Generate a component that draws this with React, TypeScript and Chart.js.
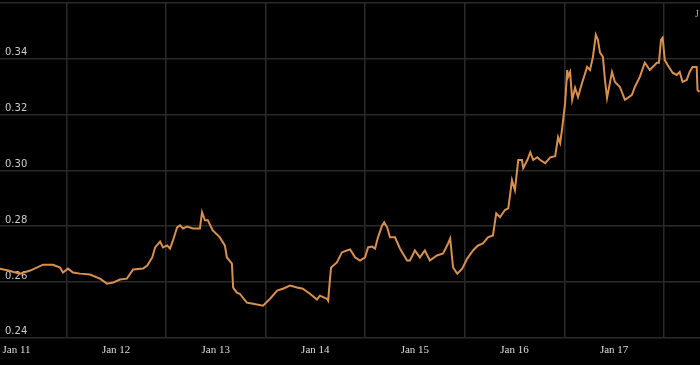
import React, { useEffect, useRef } from "react";
import { Chart, registerables } from "chart.js";

Chart.register(...registerables);

// hours after Jan 11 00:00
const hours = [
  -4.0, -2.0, 0.8, 3.3, 6.4, 8.8, 10.5, 11.2, 12.4, 13.6, 15.3, 17.7, 20.1, 21.8, 23.3,
  24.9, 26.6, 27.4, 28.1, 30.5, 31.5, 32.7, 33.4, 34.6, 35.3, 36.3, 37.0, 37.7, 38.7,
  39.4, 40.1, 41.1, 42.5, 44.2, 44.7, 45.4, 46.1, 47.3, 49.0, 50.2, 50.7, 51.9, 52.2,
  53.1, 53.8, 55.5, 57.0, 59.4, 61.1, 62.8, 64.2, 65.9, 67.6, 69.0, 70.7, 72.4, 73.1,
  74.8, 75.1, 75.5, 75.8, 77.2, 78.4, 79.6, 80.4, 81.6, 82.8, 84.0, 84.7, 85.7, 86.4,
  87.1, 88.1, 88.6, 89.3, 90.0, 91.2, 92.4, 94.1, 94.8, 96.0, 97.2, 98.4, 99.6, 101.3,
  102.8, 104.0, 104.5, 105.2, 106.2, 107.4, 108.6, 110.0, 111.2, 112.4, 113.6, 114.8,
  115.6, 116.5, 117.7, 118.5, 119.4, 120.1, 120.9, 121.8, 122.1, 123.1, 123.8, 124.5,
  125.5, 126.2, 127.4, 128.6, 129.8, 130.5, 131.0, 131.5, 132.2, 132.7, 132.9, 133.4,
  133.9, 134.6, 135.3, 136.3, 137.5, 138.2, 138.9, 139.6, 140.1, 140.6, 141.3, 141.8,
  142.3, 143.5, 144.2, 145.4, 146.6, 147.3, 148.3, 149.0, 150.2, 151.4, 152.6, 154.3,
  154.8, 155.3, 155.7, 156.2, 156.9, 158.1, 159.1, 159.8, 160.5, 161.5, 162.2, 162.9,
  163.9, 164.1, 164.6,
];

const values = [
  0.2648, 0.2641, 0.263, 0.2641, 0.2662, 0.2662, 0.2652, 0.2634, 0.2648, 0.2634, 0.263,
  0.2627, 0.2612, 0.2594, 0.2598, 0.2609, 0.2612, 0.263, 0.2645, 0.2648, 0.2659, 0.2688,
  0.2724, 0.2745, 0.2724, 0.2731, 0.272, 0.2749, 0.2796, 0.2803, 0.2792, 0.2799, 0.2792,
  0.2792, 0.285, 0.2821, 0.2821, 0.2785, 0.276, 0.2731, 0.2688, 0.2666, 0.258, 0.2562,
  0.2558, 0.2526, 0.2522, 0.2515, 0.254, 0.2569, 0.2576, 0.2587, 0.258, 0.2576, 0.2558,
  0.2537, 0.2551, 0.254, 0.2533, 0.2605, 0.2652, 0.267, 0.2706, 0.2713, 0.2717, 0.2688,
  0.2677, 0.2688, 0.2724, 0.2727, 0.272, 0.276, 0.2803, 0.2814, 0.2796, 0.276, 0.276,
  0.272, 0.2677, 0.2677, 0.2713, 0.2688, 0.2713, 0.2677, 0.2695, 0.2702, 0.2738, 0.2756,
  0.2652, 0.263, 0.2648, 0.2684, 0.2713, 0.2731, 0.2738, 0.276, 0.2767, 0.2846, 0.2832,
  0.2858, 0.2864, 0.2965, 0.2929, 0.3037, 0.3037, 0.3008, 0.3037, 0.3065, 0.3037, 0.3047,
  0.3037, 0.3026, 0.3047, 0.3051, 0.3119, 0.3098, 0.3152, 0.3242, 0.336, 0.3335, 0.3353,
  0.3253, 0.3296, 0.3263, 0.3314, 0.3371, 0.336, 0.3407, 0.3486, 0.3468, 0.3422, 0.3407,
  0.3324, 0.326, 0.3353, 0.3317, 0.3299, 0.3253, 0.326, 0.3271, 0.3299, 0.3335, 0.3386,
  0.336, 0.3386, 0.3386, 0.3468, 0.3476, 0.3396, 0.3378, 0.335, 0.3342, 0.3353, 0.3317,
  0.3324, 0.3353, 0.3371, 0.3371, 0.3288, 0.3281,
];

const dayLabels = ["Jan 11", "Jan 12", "Jan 13", "Jan 14", "Jan 15", "Jan 16", "Jan 17"];
const yMin = 0.24;
const yMax = 0.36;
const yStep = 0.02;
const cornerText = "J";

const cornerPlugin = {
  id: "cornerText",
  afterDraw(chart: any) {
    const ctx = chart.ctx;
    ctx.save();
    ctx.font = "10px 'Liberation Serif'";
    ctx.fillStyle = "#aaaaaa";
    ctx.textAlign = "left";
    ctx.textBaseline = "middle";
    ctx.fillText(cornerText, 695, 14);
    ctx.restore();
  },
};

export default function App() {
  const ref = useRef<HTMLCanvasElement | null>(null);

  useEffect(() => {
    document.body.style.margin = "0";
    document.body.style.background = "#000";
    const canvas = ref.current;
    if (!canvas) return;
    const chart = new Chart(canvas, {
      type: "line",
      data: {
        datasets: [
          {
            data: hours.map((h, i) => ({ x: h, y: values[i] })),
            borderColor: "#d8904f",
            borderWidth: 2,
            pointRadius: 0,
            tension: 0,
            fill: false,
          },
        ],
      },
      plugins: [cornerPlugin],
      options: {
        animation: false,
        responsive: false,
        maintainAspectRatio: false,
        layout: { padding: { top: 3, bottom: 2, left: 0, right: 0 } },
        plugins: {
          legend: { display: false },
          tooltip: { enabled: false },
        },
        scales: {
          x: {
            type: "linear",
            min: -3.98,
            max: 164.7,
            afterFit: (s: any) => {
              s.paddingLeft = 0;
              s.paddingRight = 0;
            },
            ticks: {
              stepSize: 24,
              includeBounds: false,
              autoSkip: false,
              maxRotation: 0,
              padding: 6,
              color: "#dddddd",
              font: { family: "'Liberation Serif'", size: 11 },
              callback: (v: any) => {
                const idx = Math.round(Number(v) / 24);
                return dayLabels[idx] ?? "";
              },
            },
            grid: {
              offset: true,
              color: "#2a2a2a",
              lineWidth: 1.5,
              drawTicks: false,
            },
            border: { display: false },
          },
          y: {
            min: yMin,
            max: yMax,
            afterFit: (s: any) => {
              s.width = 0;
              s.paddingTop = 0;
              s.paddingBottom = 0;
            },
            ticks: {
              stepSize: yStep,
              mirror: true,
              padding: 5,
              labelOffset: -6,
              color: "#cccccc",
              font: { family: "'DejaVu Sans'", size: 10 },
              callback: (v: any) => {
                const n = Number(v);
                if (Math.abs(n - yMax) < 1e-9) return "";
                return n.toFixed(2);
              },
            },
            grid: {
              color: "#2a2a2a",
              lineWidth: 1.5,
              drawTicks: false,
            },
            border: { display: false },
          },
        },
      },
    });
    return () => chart.destroy();
  }, []);

  return (
    <div style={{ width: 700, height: 365, background: "#000" }}>
      <canvas ref={ref} width={700} height={365} style={{ display: "block" }} />
    </div>
  );
}
